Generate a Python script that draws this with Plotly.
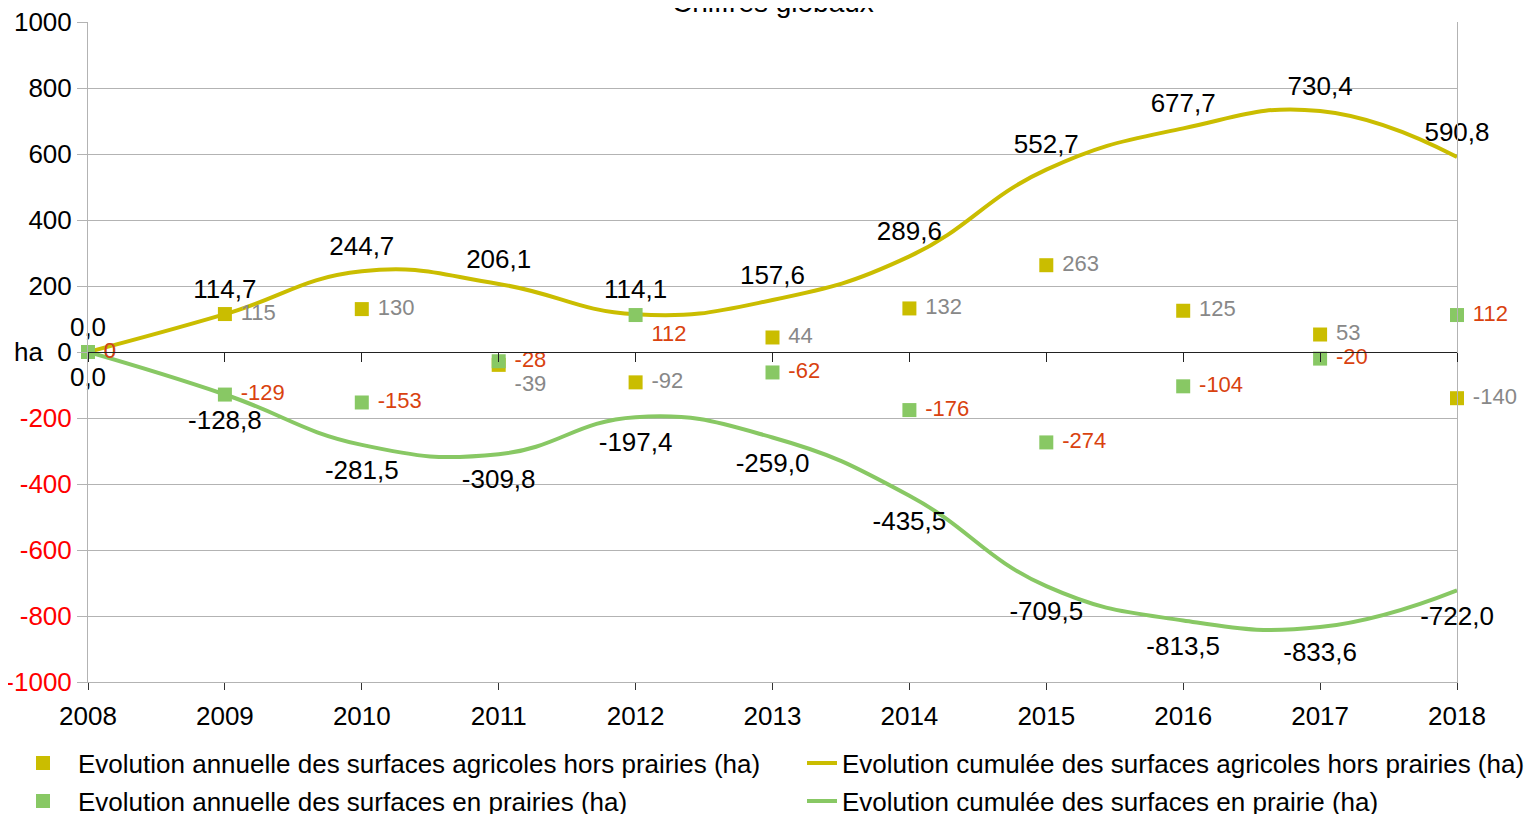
import plotly.graph_objects as go

years = [2008, 2009, 2010, 2011, 2012, 2013, 2014, 2015, 2016, 2017, 2018]
annual_hors = [0, 115, 130, -39, -92, 44, 132, 263, 125, 53, -140]
annual_prairies = [0, -129, -153, -28, 112, -62, -176, -274, -104, -20, 112]
cum_hors = [0.0, 114.7, 244.7, 206.1, 114.1, 157.6, 289.6, 552.7, 677.7, 730.4, 590.8]
cum_prairies = [0.0, -128.8, -281.5, -309.8, -197.4, -259.0, -435.5, -709.5, -813.5, -833.6, -722.0]
y_ticks = [-1000, -800, -600, -400, -200, 0, 200, 400, 600, 800, 1000]

YELLOW = "#cabd00"
GREEN = "#88c864"
GRAYTXT = "#888888"
REDTXT = "#d9420f"
FONT = "Liberation Sans, Arial, sans-serif"
FS = 26
CLEAR = "rgba(0,0,0,0)"

def fr(v):
    return f"{v:.1f}".replace(".", ",")

fig = go.Figure()

fig.add_trace(go.Scatter(
    x=years, y=cum_hors, mode="lines+markers+text", name="Evolution cumulée des surfaces agricoles hors prairies (ha)",
    line=dict(color=YELLOW, width=4, shape="spline", smoothing=1.3),
    marker=dict(size=14, color=CLEAR, line=dict(width=0, color=CLEAR)),
    text=[fr(v) for v in cum_hors], textposition="top center",
    textfont=dict(size=FS, color="black", family=FONT), cliponaxis=False, legend="legend3",
    hoverinfo="x+y"))

fig.add_trace(go.Scatter(
    x=years, y=cum_prairies, mode="lines+markers+text", name="Evolution cumulée des surfaces en prairie (ha)",
    line=dict(color=GREEN, width=4, shape="spline", smoothing=1.3),
    marker=dict(size=22, color=CLEAR, line=dict(width=0, color=CLEAR)),
    text=[fr(v) for v in cum_prairies], textposition="bottom center",
    textfont=dict(size=FS, color="black", family=FONT), cliponaxis=False, legend="legend4",
    hoverinfo="x+y"))

hors_pos = ["middle right"] * len(years)
hors_pos[3] = "bottom right"
fig.add_trace(go.Scatter(
    x=years, y=annual_hors, mode="markers+text", name="Evolution annuelle des surfaces agricoles hors prairies (ha)",
    marker=dict(symbol="square", size=14, color=YELLOW),
    text=[" " + str(v) for v in annual_hors], textposition=hors_pos,
    textfont=dict(size=22, color=GRAYTXT, family=FONT), cliponaxis=False, legend="legend"))

prai_pos = ["middle right"] * len(years)
prai_pos[4] = "bottom right"
fig.add_trace(go.Scatter(
    x=years, y=annual_prairies, mode="markers+text", name="Evolution annuelle des surfaces en prairies (ha)",
    marker=dict(symbol="square", size=14, color=GREEN),
    text=[" " + str(v) for v in annual_prairies], textposition=prai_pos,
    textfont=dict(size=22, color=REDTXT, family=FONT), cliponaxis=False, legend="legend2"))

# invisible trace for zero-line axis ticks
fig.add_trace(go.Scatter(x=years, y=[0] * len(years), xaxis="x2", mode="lines",
                         line=dict(width=0), showlegend=False, hoverinfo="skip"))

ticktext = []
for v in y_ticks:
    if v < 0:
        ticktext.append(f"<span style='color:#ff0000'>{v}</span>")
    elif v == 0:
        ticktext.append("ha  0")
    else:
        ticktext.append(str(v))

def leg(x, y, iw):
    return dict(orientation="v", xref="container", x=x, yref="container", y=y,
                yanchor="middle", xanchor="left", itemwidth=iw, bgcolor="rgba(0,0,0,0)",
                font=dict(size=FS, family=FONT, color="black"))

row1 = 1 - (763 - 8) / 814
row2 = 1 - (801 - 8) / 814

fig.update_layout(
    width=1537, height=814,
    margin=dict(l=80, r=88, t=14, b=140, autoexpand=False),
    paper_bgcolor="white", plot_bgcolor="white",
    font=dict(family=FONT, size=FS, color="black"),
    xaxis=dict(range=[2008, 2018], tickvals=years, ticktext=[str(y) for y in years],
               showgrid=False, zeroline=False, showline=True, linecolor="#b3b3b3", mirror=False,
               ticks="outside", ticklen=7, tickcolor="#333333", ticklabelstandoff=4,
               tickfont=dict(size=FS, family=FONT, color="black")),
    xaxis2=dict(range=[2008, 2018], overlaying="x", anchor="free", position=0.5, side="bottom",
                tickvals=years, showticklabels=False, showgrid=False, zeroline=False,
                showline=True, linecolor="#222222", linewidth=1, ticks="outside", ticklen=9,
                tickcolor="#222222"),
    yaxis=dict(range=[-1000, 1000], tickvals=y_ticks, ticktext=ticktext,
               showgrid=True, gridcolor="#b3b3b3", gridwidth=1, zeroline=False,
               showline=True, linecolor="#b3b3b3", mirror=True,
               ticks="outside", ticklen=10, tickcolor="#b3b3b3", ticklabeloverflow="allow",
               tickfont=dict(size=FS, family=FONT, color="black")),
    legend=leg(0.0, row1, 60),
    legend2=leg(0.0, row2, 60),
    legend3=leg((802 - 8) / 1537, row1, 30),
    legend4=leg((802 - 8) / 1537, row2, 30),
    showlegend=True,
    annotations=[dict(text="Chiffres globaux", xref="paper", yref="paper", x=0.5, y=1.03,
                      xanchor="center", yanchor="middle", showarrow=False,
                      font=dict(size=28, family=FONT, color="black"))],
)

fig.write_html("out.html")
